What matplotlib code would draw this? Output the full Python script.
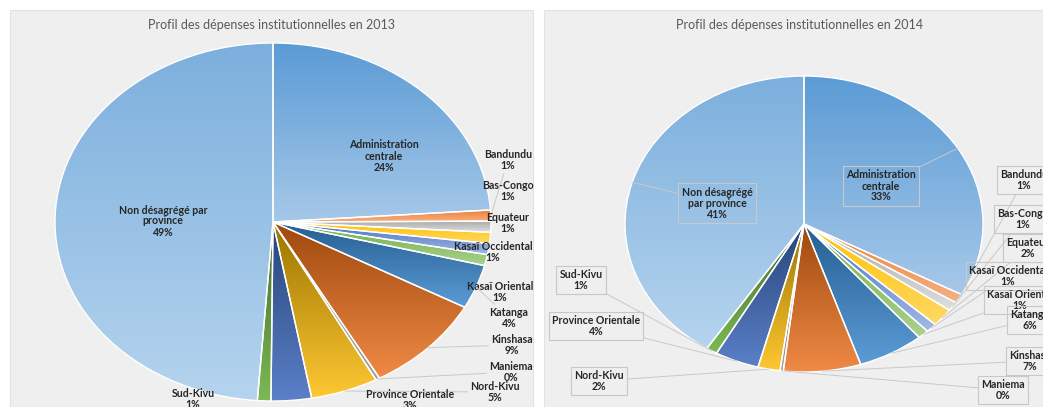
import numpy as np
import matplotlib
matplotlib.use('Agg')
import matplotlib.pyplot as plt
from matplotlib.colors import LinearSegmentedColormap
from matplotlib.patches import Rectangle

plt.rcParams['font.family'] = ['Lato', 'DejaVu Sans']

W, H = 1043, 407

#Data
provinces = ['Administration\ncentrale', 'Bandundu', 'Bas-Congo', 'Equateur',
             'Kasaï Occidental', 'Kasaï Oriental', 'Katanga', 'Kinshasa',
             'Maniema', 'Nord-Kivu', 'Province Orientale', 'Sud-Kivu']
nd_2013 = 'Non désagrégé par\nprovince'
nd_2014 = 'Non désagrégé\npar province'
values_2013 = [24, 1, 1, 1, 1, 1, 4, 9, 0.3, 5, 3, 1, 49]
values_2014 = [33, 1, 1, 2, 1, 1, 6, 7, 0.3, 2, 4, 1, 41]
titles = ['Profil des dépenses institutionnelles en 2013',
          'Profil des dépenses institutionnelles en 2014']

#Colours (top, bottom of the gradient) for each slice
grads = [('#5b9bd5', '#a6c8e9'), ('#ed7d31', '#f4b183'), ('#a5a5a5', '#dedede'),
         ('#ffc000', '#ffd966'), ('#4472c4', '#a2b8e4'), ('#70ad47', '#a9d18e'),
         ('#255e91', '#5b9bd5'), ('#9e480e', '#f08a45'), ('#636363', '#a5a5a5'),
         ('#997300', '#ffc832'), ('#264478', '#5b80c8'), ('#43682b', '#7cba55'),
         ('#7cafdd', '#b5d4ee')]

#Layout in pixels (label centres), pie ellipses
pos_2013 = [(384, 156), (508, 160), (508, 191), (508, 223), (493, 252), (500, 292),
            (509, 318), (512, 345), (511, 372), (495, 392), (410, 400), (193, 399),
            (163, 221)]
lead_2013 = [False, True, False, False, False, False, True, True, True, True,
             False, False, False]
pos_2014 = [(881, 186), (1024, 180), (1023, 219), (1028, 248), (1008, 276),
            (1020, 300), (1030, 320), (1030, 361), (1003, 390), (599, 381),
            (596, 326), (581, 280), (717, 203)]
lead_2014 = [True] * 13

fig = plt.figure(figsize=(W / 100, H / 100), dpi=100)
fig.patch.set_facecolor('white')

#Panel backgrounds
for x0, x1 in [(10, 533), (544, 1043)]:
    fig.patches.append(Rectangle((x0 / W, 0), (x1 - x0) / W, (H - 10) / H,
                                 transform=fig.transFigure, fc='#efefef',
                                 ec='#e2e2e2', lw=0.8, zorder=-5))


def draw_pie(values, names, positions, leaders, boxed, cx, cy, rx, ry, title, tx):
    ax = fig.add_axes([(cx - rx) / W, 1 - (cy + ry) / H, 2 * rx / W, 2 * ry / H])
    ax.set_zorder(1)
    wedges, _ = ax.pie(values, startangle=90, counterclock=False, radius=1,
                       wedgeprops=dict(edgecolor='white', linewidth=1.0))
    for w, (c0, c1) in zip(wedges, grads):
        w.set_facecolor('none')
        w.set_zorder(2)
        x0, y0, x1, y1 = w.get_path().get_extents().extents
        cmap = LinearSegmentedColormap.from_list('g', [c0, c1])
        im = ax.imshow(np.linspace(0, 1, 256).reshape(-1, 1), cmap=cmap,
                       extent=(x0, x1, y0, y1), origin='upper', aspect='auto',
                       interpolation='bilinear', zorder=1)
        im.set_clip_path(w)
    ax.set_xlim(-1, 1)
    ax.set_ylim(-1, 1)
    ax.set_aspect('auto')
    ax.set_axis_off()

    total = sum(values)
    for w, v, name, p, lead in zip(wedges, values, names, positions, leaders):
        text = '%s\n%d%%' % (name, round(v / total * 100))
        t = np.deg2rad((w.theta1 + w.theta2) / 2)
        kw = {}
        if boxed:
            kw['bbox'] = dict(boxstyle='square,pad=0.3', fc='none', ec='#c8c8c8', lw=0.8)
        if lead:
            kw['arrowprops'] = dict(arrowstyle='-', color='#c8c8c8', lw=0.7,
                                    shrinkA=0, shrinkB=0)
        ax.annotate(text, xy=(np.cos(t), np.sin(t)), xycoords='data',
                    xytext=(p[0] / W, 1 - p[1] / H), textcoords='figure fraction',
                    ha='center', va='center', fontsize=7.6, fontweight='bold',
                    color='#262626', linespacing=1.0, annotation_clip=False,
                    zorder=3, **kw)

    fig.text(tx / W, 1 - 25 / H, title, ha='center', va='center',
             fontsize=9, color='#595959')


draw_pie(values_2013, provinces + [nd_2013], pos_2013, lead_2013, False,
         273, 222, 218, 179, titles[0], 272)
draw_pie(values_2014, provinces + [nd_2014], pos_2014, lead_2014, True,
         804, 224, 179, 148, titles[1], 800)

fig.savefig('out.png', dpi=100)
